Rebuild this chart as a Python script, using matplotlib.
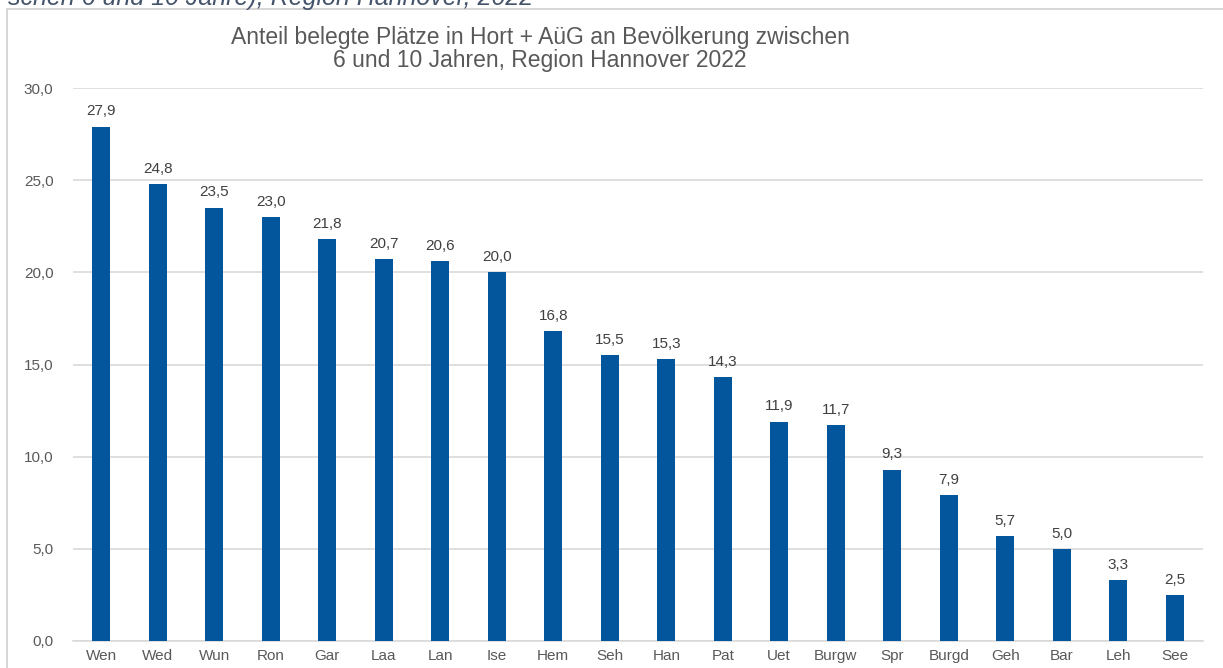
import matplotlib.pyplot as plt
from matplotlib.patches import Rectangle

plt.rcParams['font.family'] = ['Liberation Sans', 'DejaVu Sans']

# Kommunen (abgekuerzt) und Anteil in Prozent
gemeinden = ['Wen', 'Wed', 'Wun', 'Ron', 'Gar', 'Laa', 'Lan', 'Ise', 'Hem', 'Seh',
             'Han', 'Pat', 'Uet', 'Burgw', 'Spr', 'Burgd', 'Geh', 'Bar', 'Leh', 'See']
anteil = [27.9, 24.8, 23.5, 23.0, 21.8, 20.7, 20.6, 20.0, 16.8, 15.5,
          15.3, 14.3, 11.9, 11.7, 9.3, 7.9, 5.7, 5.0, 3.3, 2.5]
y_ticks = [0, 5, 10, 15, 20, 25, 30]

bar_color = '#03569B'
text_color = '#595959'
grid_color = '#D9D9D9'

fig = plt.figure(figsize=(12.23, 6.68), dpi=100)
ax = fig.add_axes([73/1223, 27/668, 1130/1223, 553/668])

x = range(len(gemeinden))
bars = ax.bar(x, anteil, width=0.32, color=bar_color, zorder=3)

# Werte ueber den Balken, mit Dezimalkomma
for b, v in zip(bars, anteil):
    ax.annotate('{:.1f}'.format(v).replace('.', ','),
                (b.get_x() + b.get_width()/2, v), xytext=(0, 6),
                textcoords='offset points', ha='center', va='bottom',
                fontsize=11, color='#404040')

ax.set_xlim(-0.5, len(gemeinden) - 0.5)
ax.set_ylim(0, 30)
ax.set_yticks(y_ticks)
ax.set_yticklabels(['{:.1f}'.format(t).replace('.', ',') for t in y_ticks])
ax.set_xticks(list(x))
ax.set_xticklabels(gemeinden)
ax.tick_params(axis='y', length=0, pad=14, labelsize=11, labelcolor=text_color)
ax.tick_params(axis='x', length=0, pad=6, labelsize=11, labelcolor=text_color)
ax.yaxis.grid(True, color=grid_color, linewidth=1.2, zorder=0)
for s in ['top', 'right', 'left']:
    ax.spines[s].set_visible(False)
ax.spines['bottom'].set_color(grid_color)
ax.spines['bottom'].set_linewidth(1.2)

fig.text(540/1223, 1 - 49/668,
         'Anteil belegte Plätze in Hort + AüG an Bevölkerung zwischen\n6 und 10 Jahren, Region Hannover 2022',
         ha='center', va='center', fontsize=16.5, color=text_color, linespacing=1.0)

# Rahmen des Diagramms (ausgeschnitten)
fig.patches.append(Rectangle((7/1223, -0.1), 1.2, 1 - 9/668 + 0.1, transform=fig.transFigure,
                             fill=False, edgecolor='#D0D0D0', linewidth=1.2))

# abgeschnittene Bildunterschrift oben
fig.text(8/1223, 1 - 4.5/668, 'schen 6 und 10 Jahre), Region Hannover, 2022',
         ha='left', va='baseline', fontsize=18, style='italic', color='#44546A')

fig.savefig('out.png', dpi=100)
